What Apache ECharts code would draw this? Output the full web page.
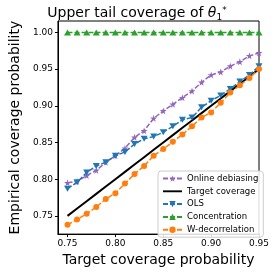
<!DOCTYPE html>
<html>
<head>
<meta charset="utf-8">
<script src="https://cdn.jsdelivr.net/npm/echarts@6/dist/echarts.min.js"></script>
<style>
html,body{margin:0;padding:0;background:#fff;}
#c{width:274px;height:272px;}
</style>
</head>
<body>
<div id="c"></div>
<script>
var targets = [0.75,0.76,0.77,0.78,0.79,0.80,0.81,0.82,0.83,0.84,0.85,0.86,0.87,0.88,0.89,0.90,0.91,0.92,0.93,0.94,0.95];
var onlineDebiasing = [0.795,0.797,0.805,0.812,0.823,0.832,0.842,0.857,0.866,0.883,0.893,0.902,0.911,0.920,0.932,0.942,0.946,0.954,0.960,0.968,0.972];
var targetCoverage = [0.75,0.76,0.77,0.78,0.79,0.80,0.81,0.82,0.83,0.84,0.85,0.86,0.87,0.88,0.89,0.90,0.91,0.92,0.93,0.94,0.95];
var ols = [0.787,0.796,0.809,0.818,0.823,0.832,0.837,0.848,0.855,0.858,0.864,0.872,0.881,0.884,0.898,0.907,0.914,0.923,0.933,0.942,0.954];
var concentration = [1,1,1,1,1,1,1,1,1,1,1,1,1,1,1,1,1,1,1,1,1];
var wDecorrelation = [0.738,0.745,0.753,0.762,0.773,0.781,0.794,0.807,0.818,0.832,0.841,0.851,0.861,0.872,0.884,0.891,0.904,0.918,0.928,0.938,0.950];
var xTicks = [0.75,0.80,0.85,0.90,0.95];
var yTicks = [0.75,0.80,0.85,0.90,0.95,1.00];

function pairs(ys){ return targets.map(function(x,i){ return [x, ys[i]]; }); }
var FONT = 'DejaVu Sans';
var star = 'path://M50,0 L61,35 L98,35 L68,57 L79,91 L50,70 L21,91 L32,57 L2,35 L39,35 Z';
var downTri = 'path://M0,0 L10,0 L5,9 Z';
var dash = [5,2];

var chart = echarts.init(document.getElementById('c'), null, {renderer:'canvas'});
chart.setOption({
  animation:false,
  title:{
    text:'{a|Upper tail coverage of }{i|θ}{s|1}{p|*}',
    left:'center', top:0,
    textStyle:{ fontFamily:FONT, fontSize:14, color:'#000', fontWeight:'normal',
      rich:{
        a:{fontFamily:FONT,fontSize:14,color:'#000'},
        i:{fontFamily:FONT,fontSize:14,color:'#000',fontStyle:'italic'},
        s:{fontFamily:FONT,fontSize:9,color:'#000',padding:[8,0,0,0]},
        p:{fontFamily:FONT,fontSize:9,color:'#000',padding:[0,0,6,0]}
      }
    }
  },
  grid:{left:46,right:15,top:21,bottom:37,show:true,borderColor:'#000',borderWidth:1,containLabel:false},
  legend:{
    orient:'vertical', left:158, top:171,
    itemWidth:19, itemHeight:8, itemGap:3.8,
    padding:[3,5,3,4],
    borderColor:'#ccc', borderWidth:1, borderRadius:3,
    backgroundColor:'rgba(255,255,255,0.85)',
    textStyle:{fontFamily:FONT,fontSize:8.5,color:'#000',lineHeight:8},
    data:['Online debiasing',
      {name:'Target coverage', icon:'path://M0,0 L40,0 L40,4 L0,4 Z'},
      'OLS','Concentration','W-decorrelation']
  },
  xAxis:{
    type:'value', min:0.74, max:0.95,
    name:'Target coverage probability', nameLocation:'middle', nameGap:13,
    nameTextStyle:{fontFamily:FONT,fontSize:14,color:'#000'},
    axisLine:{show:true,lineStyle:{color:'#000',width:1}},
    axisTick:{show:true,length:3,lineStyle:{color:'#000'},customValues:xTicks},
    axisLabel:{fontFamily:FONT,fontSize:9,color:'#000',margin:5,customValues:xTicks,
      formatter:function(v){return v.toFixed(2);}},
    splitLine:{show:false}
  },
  yAxis:{
    type:'value', min:0.7252, max:1.0155,
    name:'Empirical coverage probability', nameLocation:'middle', nameGap:30, nameRotate:90,
    nameTextStyle:{fontFamily:FONT,fontSize:14,color:'#000'},
    axisLine:{show:true,lineStyle:{color:'#000',width:1}},
    axisTick:{show:true,length:3,lineStyle:{color:'#000'},customValues:yTicks},
    axisLabel:{fontFamily:FONT,fontSize:9,color:'#000',margin:5,customValues:yTicks,
      formatter:function(v){return v.toFixed(2);}},
    splitLine:{show:false}
  },
  series:[
    {name:'Online debiasing',type:'line',data:pairs(onlineDebiasing),symbol:star,symbolSize:7,
      itemStyle:{color:'#9467bd'},lineStyle:{color:'#9467bd',width:1.5,type:dash},z:3},
    {name:'Target coverage',type:'line',data:pairs(targetCoverage),symbol:'none',
      itemStyle:{color:'#000'},lineStyle:{color:'#000',width:2},z:2},
    {name:'OLS',type:'line',data:pairs(ols),symbol:downTri,symbolSize:[7,6],
      itemStyle:{color:'#1f77b4'},lineStyle:{color:'#1f77b4',width:1.5,type:dash},z:4},
    {name:'Concentration',type:'line',data:pairs(concentration),symbol:'triangle',symbolSize:[7,6],
      itemStyle:{color:'#2ca02c'},lineStyle:{color:'#2ca02c',width:1.5,type:dash},z:5},
    {name:'W-decorrelation',type:'line',data:pairs(wDecorrelation),symbol:'circle',symbolSize:6,
      itemStyle:{color:'#ff7f0e'},lineStyle:{color:'#ff7f0e',width:1.5,type:dash},z:6}
  ]
});
</script>
</body>
</html>
